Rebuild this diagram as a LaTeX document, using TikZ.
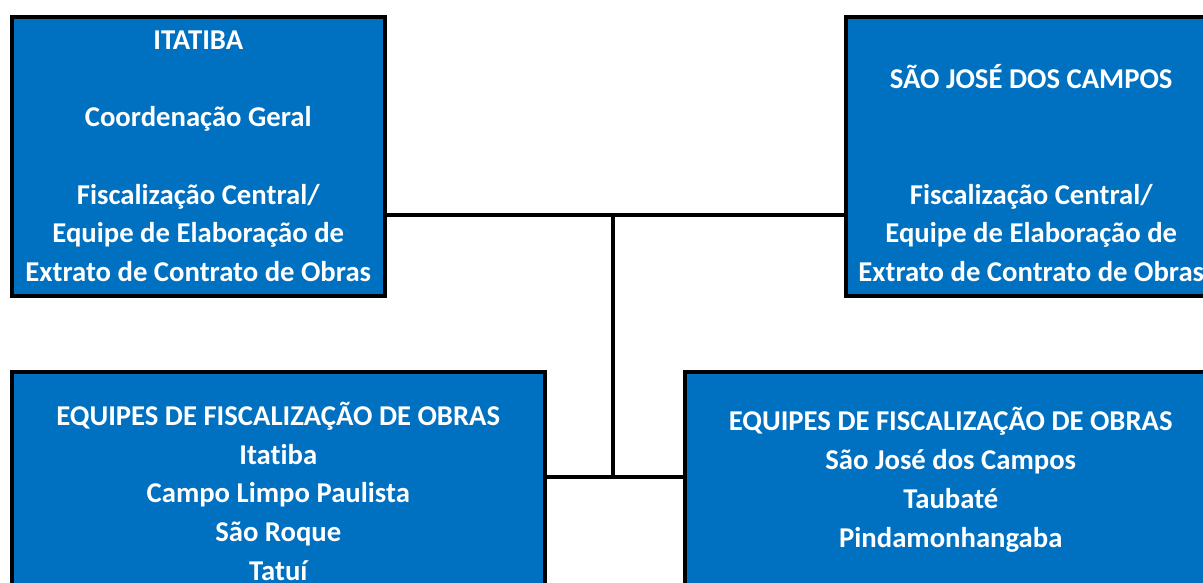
\documentclass[tikz,border=0pt]{standalone}
\usepackage{fontspec}
\setmainfont{Carlito}[Ligatures=NoCommon]
\usepackage{tikz}
\usetikzlibrary{positioning}
\definecolor{boxblue}{HTML}{0070C0}

\begin{document}
\begin{tikzpicture}[x=1pt, y=-1pt,
        office/.style={rectangle, draw=black, fill=boxblue, line width=3.5pt, anchor=north west, inner sep=0pt, align=center, text=white, font=\fontsize{28.7}{38.7}\selectfont\bfseries},
        link/.style={draw=black, line width=3.5pt}
      ]
        \useasboundingbox (0,0) rectangle (1203,582);
        \clip (0,0) rectangle (1203,582);

        \node[office, minimum width=373pt, minimum height=279pt]  (itatiba)  at(10, 15)
            {ITATIBA\\ \\Coordenação Geral\\ \\Fiscalização Central/\\Equipe de Elaboração de\\Extrato de Contrato de Obras};
        \node[office, minimum width=371pt, minimum height=279pt]  (sjc)      at(844, 15)
            {\vphantom{ITATIBA}\\SÃO JOSÉ DOS CAMPOS\\ \\ \\Fiscalização Central/\\Equipe de Elaboração de\\Extrato de Contrato de Obras};
        \node[office, minimum width=533pt, minimum height=239pt]  (teamita)  at(10, 370)
            {EQUIPES DE FISCALIZAÇÃO DE OBRAS\\Itatiba\\Campo Limpo Paulista\\São Roque\\Tatuí};
        \node[office, minimum width=532pt, minimum height=216pt]  (teamsjc)  at(683, 370)
            {EQUIPES DE FISCALIZAÇÃO DE OBRAS\\São José dos Campos\\Taubaté\\Pindamonhangaba};

        \coordinate (top)    at (613, 215);
        \coordinate (bottom) at (613, 477);

        \draw[link]  (itatiba.east |- top) -- (sjc.west |- top);
        \draw[link]  (top) -- (bottom);
        \draw[link]  (teamita.east |- bottom) -- (teamsjc.west |- bottom);
      \end{tikzpicture}
\end{document}
